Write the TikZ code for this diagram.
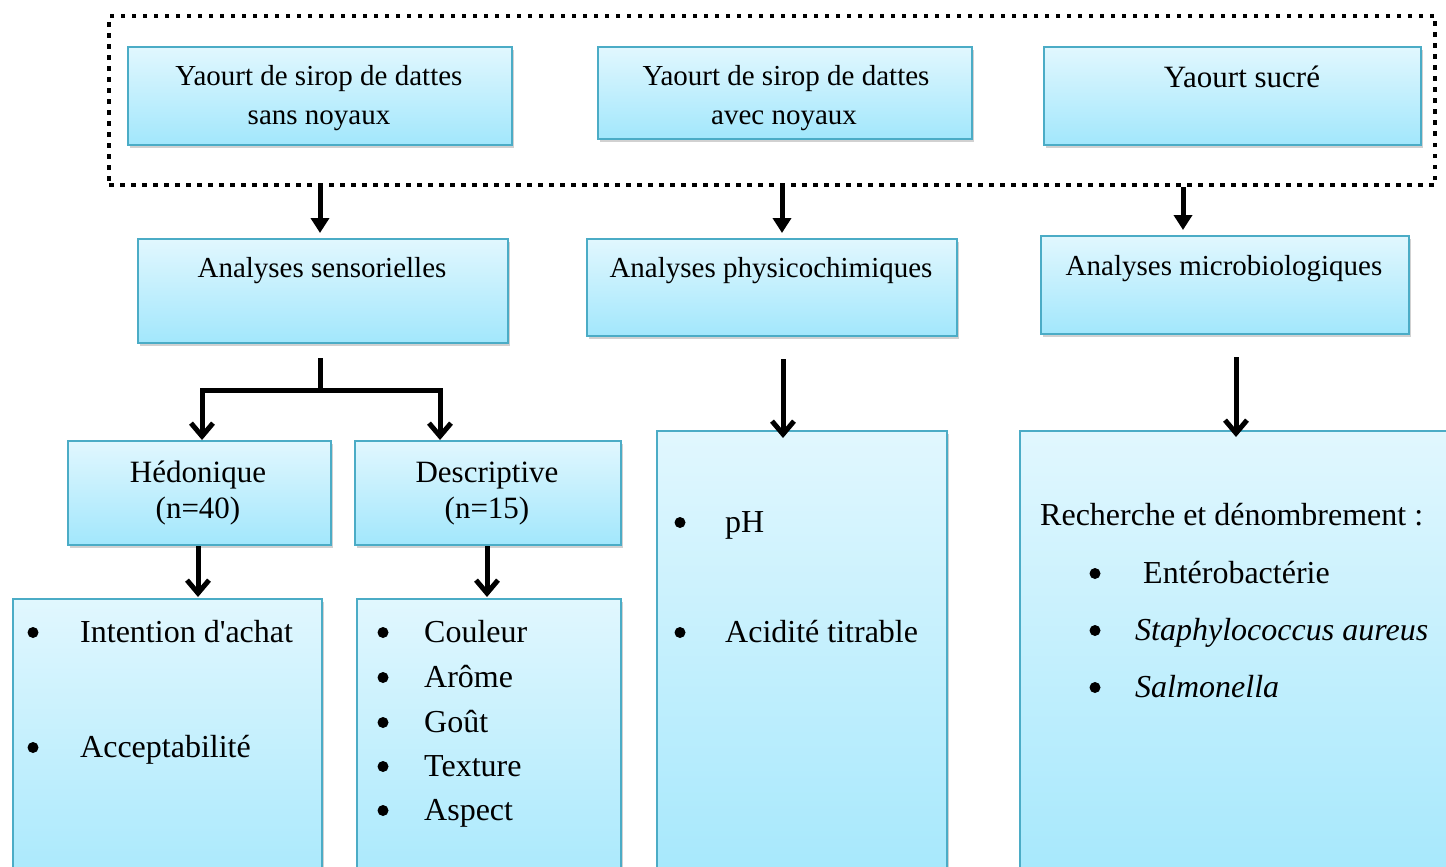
\documentclass[tikz,border=0pt]{standalone}
\usepackage{fontspec}
\setmainfont{Liberation Serif}
\usetikzlibrary{arrows.meta,shadows,calc}
\definecolor{boxtop}{HTML}{E1F7FE}
\definecolor{boxbot}{HTML}{A2E7FC}
\definecolor{boxline}{HTML}{4BACC6}
\tikzset{
  box/.style={draw=boxline, line width=2pt, top color=boxtop, bottom color=boxbot,
    anchor=north west, inner sep=0pt,
    drop shadow={shadow xshift=2pt, shadow yshift=-3pt, opacity=0.3, fill=black!60}},
  frame/.style={draw=black, line width=4pt, dash pattern=on 4.5pt off 6.5pt,
    anchor=north west, inner sep=0pt},
  arr/.style={line width=5pt, line join=miter, -{Straight Barb[length=13pt,width=22pt]}},
  arrt/.style={line width=5pt, -{Triangle[length=15pt,width=18pt]}},
  conn/.style={line width=5pt},
  ta/.style={font=\fontsize{29pt}{39pt}\selectfont, anchor=base, inner sep=0pt},
  tb/.style={font=\fontsize{31pt}{39pt}\selectfont, anchor=base, inner sep=0pt},
  tl/.style={font=\fontsize{32pt}{40pt}\selectfont, anchor=base west, inner sep=0pt},
  tit/.style={tl, font=\fontsize{32pt}{40pt}\selectfont\itshape},
  bul/.style={circle, fill=black, inner sep=0pt, minimum size=11pt, yshift=9.5pt},
}
\begin{document}
\begin{tikzpicture}[x=1pt,y=-1pt]
\useasboundingbox (0,0) rectangle (1446,867);
\clip (0,0) rectangle (1446,867);

% dotted frame
\node[frame, minimum width=1326pt, minimum height=169pt] (frame) at (107,14) {};

% top boxes
\node[box, minimum width=384pt, minimum height=98pt] (b1) at (127,46) {};
\node[box, minimum width=374pt, minimum height=92pt] (b2) at (597,46) {};
\node[box, minimum width=377pt, minimum height=98pt] (b3) at (1043,46) {};
\node[ta] (b1a) at (319,85) {Yaourt de sirop de dattes};
\node[ta] (b1b) at (319,124) {sans noyaux};
\node[ta] (b2a) at (786,85) {Yaourt de sirop de dattes};
\node[ta] (b2b) at (784,124) {avec noyaux};
\node[tb] (b3a) at (1242,88) {Yaourt sucré};

% second row
\node[box, minimum width=370pt, minimum height=104pt] (s1) at (137,238) {};
\node[box, minimum width=370pt, minimum height=97pt] (s2) at (586,238) {};
\node[box, minimum width=368pt, minimum height=98pt] (s3) at (1040,235) {};
\node[ta] (s1a) at (322,277) {Analyses sensorielles};
\node[ta] (s2a) at (771,277) {Analyses physicochimiques};
\node[ta] (s3a) at (1224,275) {Analyses microbiologiques};

% sensory sub boxes
\node[box, minimum width=263pt, minimum height=104pt] (h1) at (67,440) {};
\node[box, minimum width=266pt, minimum height=104pt] (h2) at (354,440) {};
\node[tb] (h1a) at (198,482) {Hédonique};
\node[tb] (h1b) at (198,518) {(n=40)};
\node[tb] (h2a) at (487,482) {Descriptive};
\node[tb] (h2b) at (487,518) {(n=15)};

% bottom boxes
\node[box, minimum width=309pt, minimum height=320pt] (l1) at (12,598) {};
\node[box, minimum width=264pt, minimum height=320pt] (l2) at (356,598) {};
\node[box, minimum width=290pt, minimum height=480pt] (p1) at (656,430) {};
\node[box, minimum width=450pt, minimum height=480pt] (m1) at (1019,430) {};

% list hedonique
\node[bul] (l1b1) at (33,642) {};
\node[tl] (l1t1) at (80,642) {Intention d\textquotesingle achat};
\node[bul] (l1b2) at (33,757) {};
\node[tl] (l1t2) at (80,757) {Acceptabilité};

% list descriptive
\node[bul] (l2b1) at (383,642) {};
\node[tl] (l2t1) at (424,642) {Couleur};
\node[bul] (l2b2) at (383,687) {};
\node[tl] (l2t2) at (424,687) {Arôme};
\node[bul] (l2b3) at (383,732) {};
\node[tl] (l2t3) at (424,732) {Goût};
\node[bul] (l2b4) at (383,776) {};
\node[tl] (l2t4) at (424,776) {Texture};
\node[bul] (l2b5) at (383,820) {};
\node[tl] (l2t5) at (424,820) {Aspect};

% list physico
\node[bul] (p1b1) at (680,532) {};
\node[tl] (p1t1) at (725,532) {pH};
\node[bul] (p1b2) at (680,642) {};
\node[tl] (p1t2) at (725,642) {Acidité titrable};

% list micro
\node[tl] (m1h) at (1040,525) {Recherche et dénombrement :};
\node[bul] (m1b1) at (1095,583) {};
\node[tl] (m1t1) at (1143,583) {Entérobactérie};
\node[bul] (m1b2) at (1095,640) {};
\node[tit] (m1t2) at (1135,640) {Staphylococcus aureus};
\node[bul] (m1b3) at (1095,697) {};
\node[tit] (m1t3) at (1135,697) {Salmonella};

% helper coordinates
\coordinate (ax1) at (320,0);
\coordinate (ax2) at (782,0);
\coordinate (ax3) at (1183,0);
\coordinate (jn) at (320,390);
\coordinate (bx1) at (202,0);
\coordinate (bx2) at (440,0);
\coordinate (px) at (783,0);
\coordinate (mx) at (1236,0);
\coordinate (hx1) at (198,0);
\coordinate (hx2) at (487,0);

% arrows from frame
\draw[arrt, shorten >=5pt] (frame.south -| ax1) -- (s1.north -| ax1);
\draw[arrt, shorten >=5pt] (frame.south -| ax2) -- (s2.north -| ax2);
\draw[arrt, shorten >=5pt] (frame.south -| ax3) -- (s3.north -| ax3);

% sensory branch
\draw[conn] ($(s1.south -| ax1)+(0,14)$) -- (jn);
\draw[arr] (jn) -| (h1.north -| bx1);
\draw[arr] (jn) -| (h2.north -| bx2);

% physico and micro
\draw[arr] ($(s2.south -| px)+(0,22)$) -- ($(p1.north -| px)+(0,8)$);
\draw[arr] ($(s3.south -| mx)+(0,22)$) -- ($(m1.north -| mx)+(0,7)$);

% hedonique / descriptive
\draw[arr] (h1.south -| hx1) -- ($(l1.north -| hx1)+(0,-1)$);
\draw[arr] (h2.south -| hx2) -- ($(l2.north -| hx2)+(0,-1)$);
\end{tikzpicture}
\end{document}
